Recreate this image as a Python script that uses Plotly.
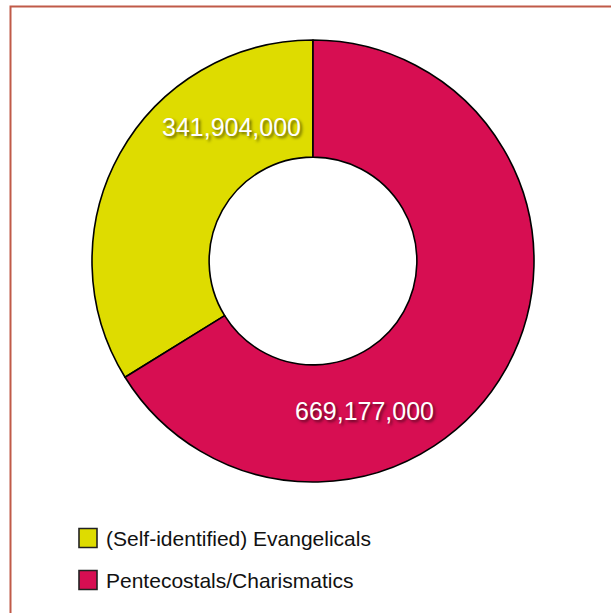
import plotly.graph_objects as go

categories = ["(Self-identified) Evangelicals", "Pentecostals/Charismatics"]
values = [341904000, 669177000]
colors = ["#dedc00", "#d70e52"]

W, H = 611, 613

# first slice ends at 12 o'clock, running counterclockwise from there
rot = -360.0 * values[0] / sum(values)

fig = go.Figure()
fig.add_trace(go.Pie(
    labels=categories,
    values=values,
    hole=0.47,
    sort=False,
    direction="clockwise",
    rotation=rot,
    marker=dict(colors=colors, line=dict(color="#000000", width=1.6)),
    textinfo="none",
    hoverinfo="label+value",
    showlegend=False,
    domain=dict(x=[(313 - 221) / W, (313 + 221) / W], y=[1 - 482 / H, 1 - 40 / H]),
))

# value labels
label_pos = [(231, 127), (364, 411)]
for v, (px, py) in zip(values, label_pos):
    fig.add_annotation(
        x=px / W, y=1 - py / H, xref="paper", yref="paper",
        text=f"{v:,}", showarrow=False,
        font=dict(family="Liberation Sans, Arial, sans-serif", size=25, color="white",
                  shadow="2px 2px 3px rgba(0,0,0,0.55)"),
        xanchor="center", yanchor="middle",
    )

# custom legend
shapes = []
legend_rows = [538, 580]
for (cat, col, cy) in zip(categories, colors, legend_rows):
    shapes.append(dict(type="rect", xref="paper", yref="paper",
                       x0=79 / W, x1=97 / W, y0=1 - (cy + 9.5) / H, y1=1 - (cy - 9.5) / H,
                       fillcolor=col, line=dict(color="#222222", width=1.6)))
    fig.add_annotation(
        x=104 / W, y=1 - cy / H, xref="paper", yref="paper",
        text=cat, showarrow=False, xanchor="left", yanchor="middle",
        font=dict(family="Liberation Sans, Arial, sans-serif", size=21, color="#111111"),
    )

# frame border
shapes.append(dict(type="rect", xref="paper", yref="paper",
                   x0=10.5 / W, x1=1.05, y0=-0.05, y1=1 - 6.5 / H,
                   line=dict(color="#c05a48", width=2), fillcolor="rgba(0,0,0,0)"))

fig.update_layout(
    width=W, height=H,
    margin=dict(l=0, r=0, t=0, b=0),
    paper_bgcolor="white",
    plot_bgcolor="white",
    shapes=shapes,
)

fig.write_html("out.html")
